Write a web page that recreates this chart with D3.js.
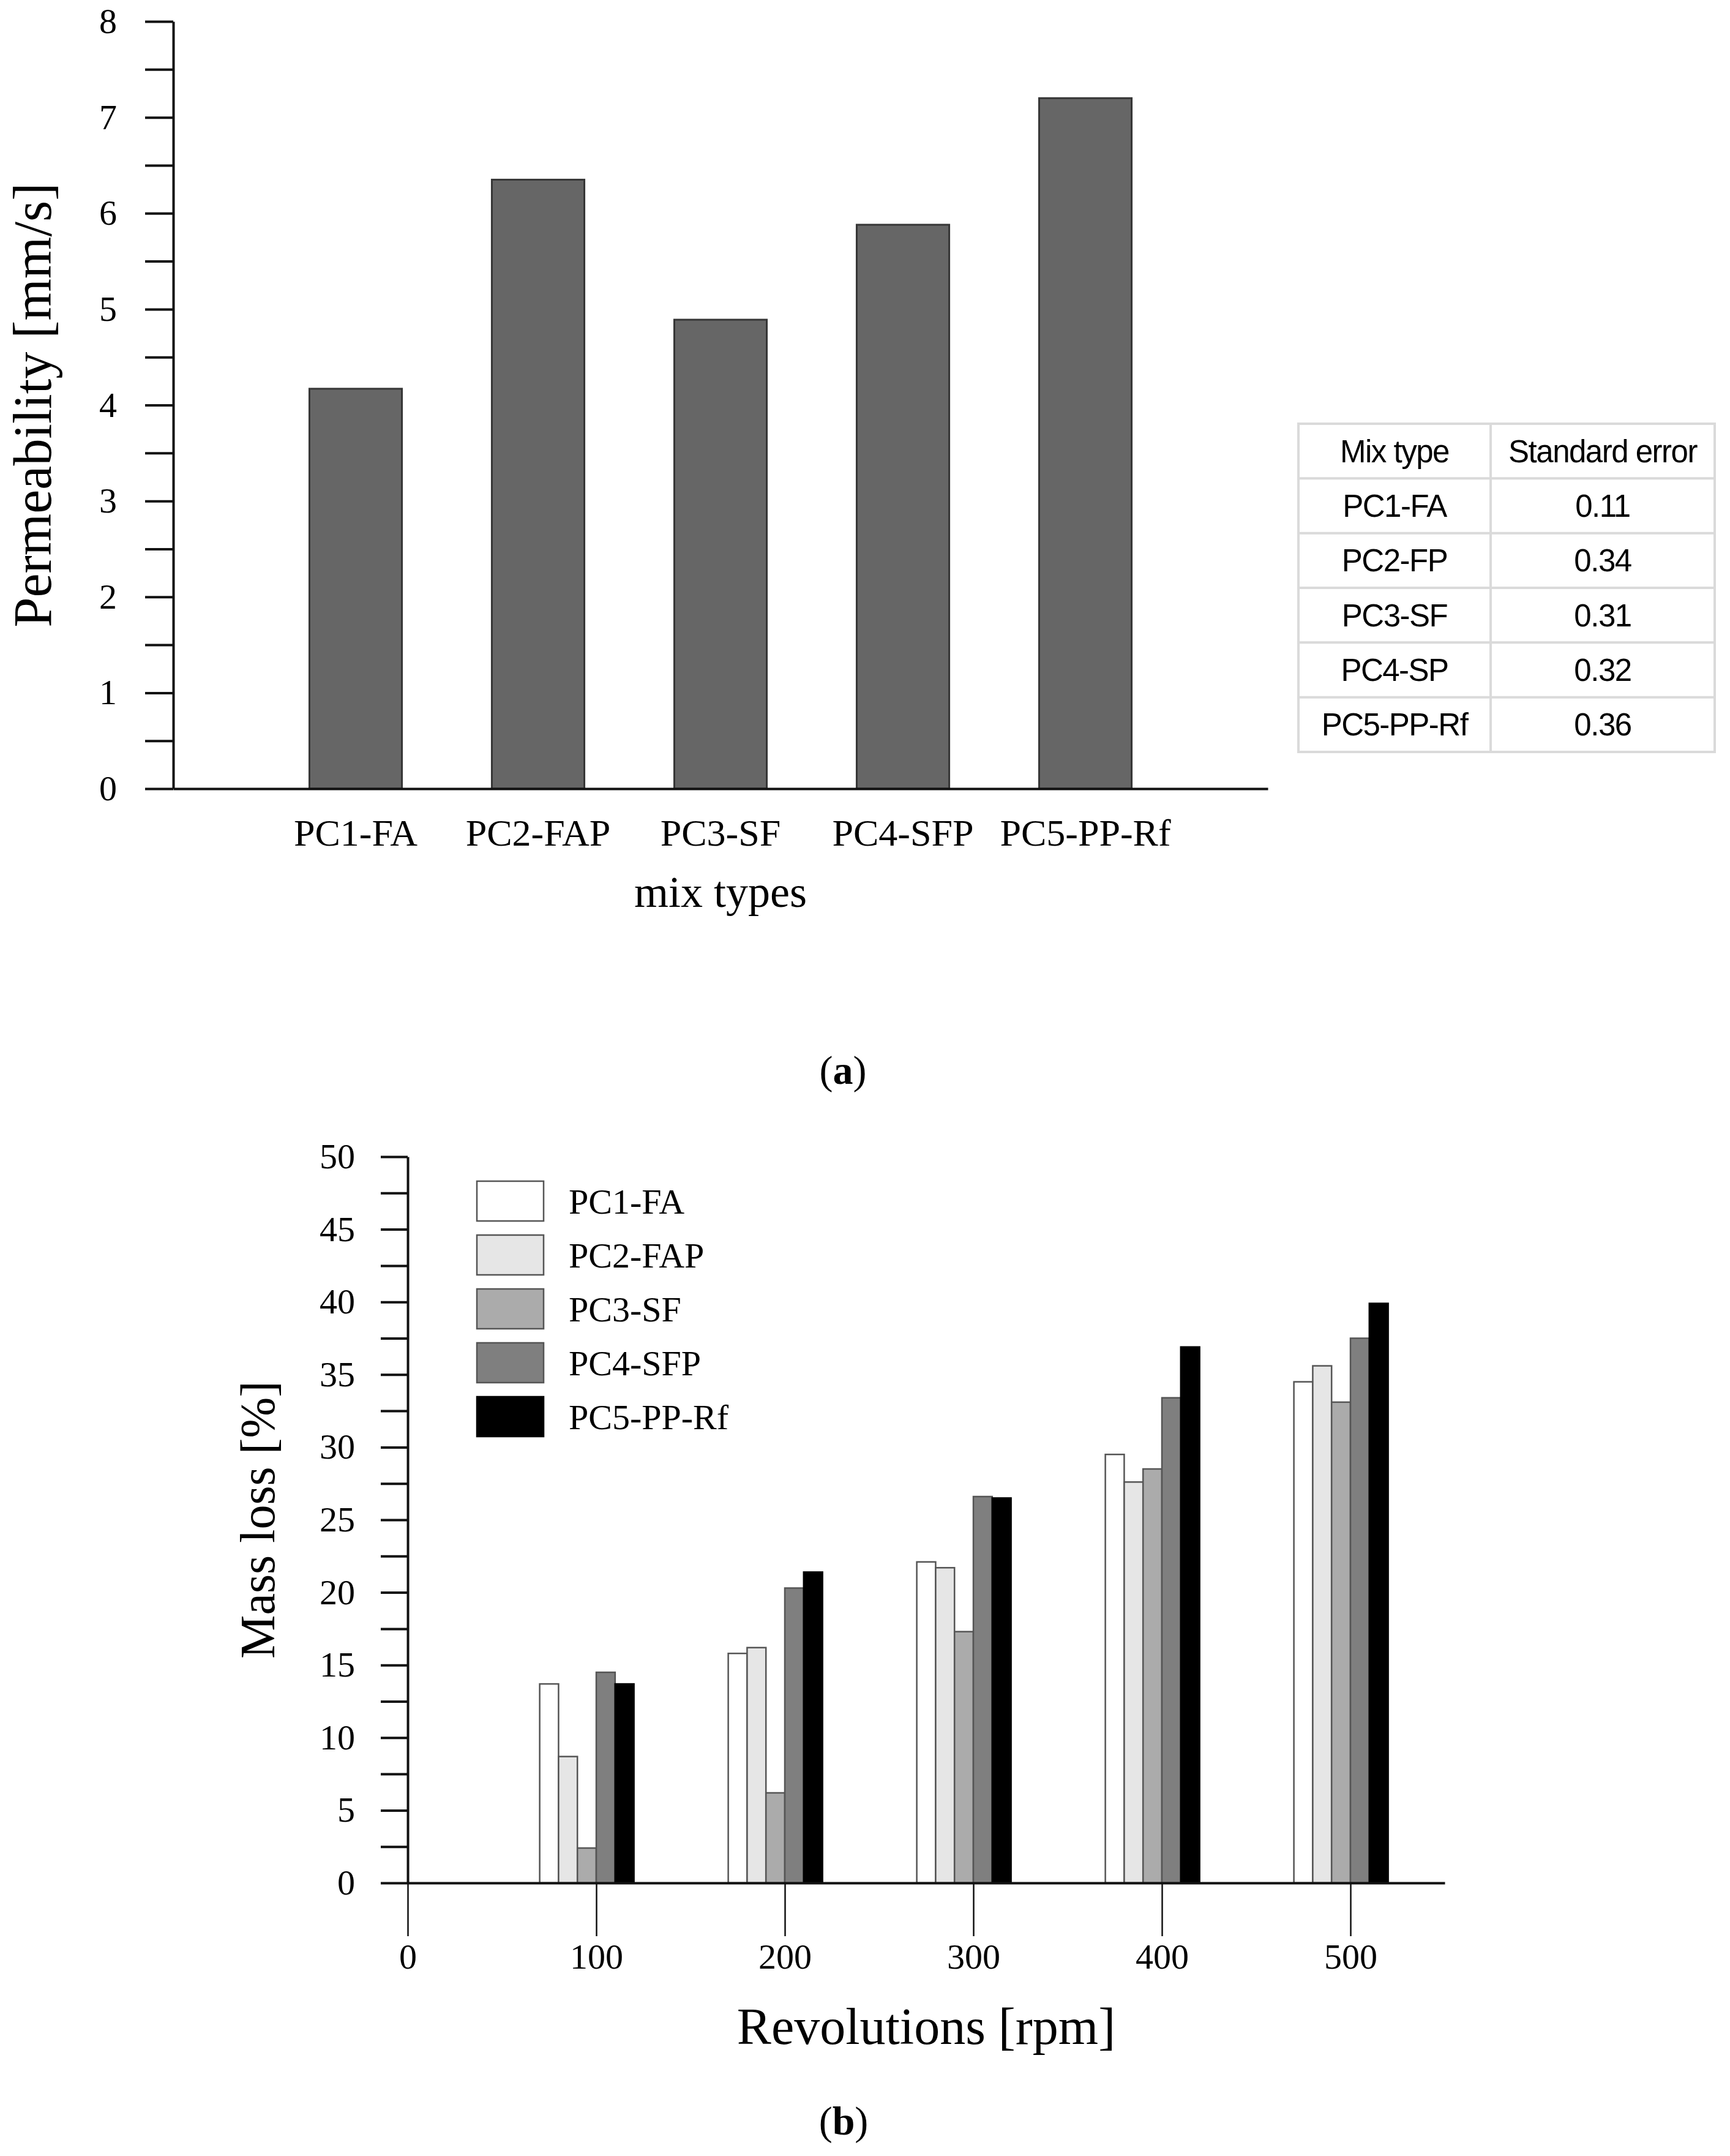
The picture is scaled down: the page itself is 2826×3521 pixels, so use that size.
<!DOCTYPE html>
<html>
<head>
<meta charset="utf-8">
<script src="https://cdn.jsdelivr.net/npm/d3@7"></script>
<style>
  html, body { margin: 0; padding: 0; background: #fff; }
  svg { display: block; }
</style>
</head>
<body>
<svg id="chart" width="2826" height="3521"></svg>
<script>
// ---------- DATA ----------
const mixTypes = ["PC1-FA", "PC2-FAP", "PC3-SF", "PC4-SFP", "PC5-PP-Rf"];
const permeability = [4.17, 6.35, 4.89, 5.88, 7.2];
const permTicks = [0, 1, 2, 3, 4, 5, 6, 7, 8];

const tableHeader = ["Mix type", "Standard error"];
const tableMix = ["PC1-FA", "PC2-FP", "PC3-SF", "PC4-SP", "PC5-PP-Rf"];
const stdError = ["0.11", "0.34", "0.31", "0.32", "0.36"];

const revolutions = [100, 200, 300, 400, 500];
const revTicks = [0, 100, 200, 300, 400, 500];
const massTicks = [0, 5, 10, 15, 20, 25, 30, 35, 40, 45, 50];
const seriesNames = ["PC1-FA", "PC2-FAP", "PC3-SF", "PC4-SFP", "PC5-PP-Rf"];
const massPC1 = [13.7, 15.8, 22.1, 29.5, 34.5];
const massPC2 = [8.7, 16.2, 21.7, 27.6, 35.6];
const massPC3 = [2.4, 6.2, 17.3, 28.5, 33.1];
const massPC4 = [14.5, 20.3, 26.6, 33.4, 37.5];
const massPC5 = [13.7, 21.4, 26.5, 36.9, 39.9];
const seriesColors = ["#ffffff", "#e6e6e6", "#ababab", "#7f7f7f", "#000000"];

// ---------- SETUP ----------
const svg = d3.select("#chart");
svg.append("rect").attr("width", 2826).attr("height", 3521).attr("fill", "#fff");
const serif = "'Liberation Serif', 'Times New Roman', serif";
const sans = "'Liberation Sans', Arial, sans-serif";

function styleAxis(g, strokeW) {
  g.select(".domain").attr("stroke", "#111").attr("stroke-width", 4);
  g.selectAll(".tick line").attr("stroke", "#111").attr("stroke-width", strokeW);
  g.selectAll(".tick text").attr("fill", "#000").attr("font-family", serif);
}

// ---------- CHART (a) ----------
const xA = d3.scaleLinear().domain([0, 6]).range([283, 2071]);
const yA = d3.scaleLinear().domain([0, 8]).range([1288, 35]);
const barFracA = 0.507;
const stepA = xA(1) - xA(0);

const gA = svg.append("g");
gA.selectAll("rect.barA")
  .data(permeability)
  .join("rect")
  .attr("class", "barA")
  .attr("x", (d, i) => xA(i + 1) - stepA * barFracA / 2)
  .attr("width", stepA * barFracA)
  .attr("y", d => yA(d))
  .attr("height", d => yA(0) - yA(d))
  .attr("fill", "#666666")
  .attr("stroke", "#363636")
  .attr("stroke-width", 3);

const yAxisA = gA.append("g")
  .attr("transform", `translate(${xA(0)},0)`)
  .call(d3.axisLeft(yA)
    .tickValues(d3.range(0, 8.01, 0.5))
    .tickFormat(d => permTicks.includes(d) ? d : "")
    .tickSize(46).tickSizeOuter(0).tickPadding(46));
styleAxis(yAxisA, 4);
yAxisA.selectAll(".tick text").attr("font-size", 58);

const xAxisA = gA.append("g")
  .attr("transform", `translate(0,${yA(0)})`)
  .call(d3.axisBottom(xA).tickValues([]).tickSizeOuter(0));
styleAxis(xAxisA, 4);

gA.selectAll("text.catA")
  .data(mixTypes)
  .join("text")
  .attr("class", "catA")
  .attr("x", (d, i) => xA(i + 1))
  .attr("y", 1381)
  .attr("text-anchor", "middle")
  .attr("font-family", serif)
  .attr("font-size", 62)
  .text(d => d);

gA.append("text")
  .attr("x", 1177).attr("y", 1481)
  .attr("text-anchor", "middle")
  .attr("font-family", serif).attr("font-size", 72)
  .text("mix types");

gA.append("text")
  .attr("transform", `translate(83,${(yA(0) + yA(8)) / 2}) rotate(-90)`)
  .attr("text-anchor", "middle")
  .attr("font-family", serif).attr("font-size", 88)
  .text("Permeability [mm/s]");

// caption (a)
const capA = svg.append("text")
  .attr("x", 1377).attr("y", 1770)
  .attr("text-anchor", "middle")
  .attr("font-family", serif).attr("font-size", 66);
capA.append("tspan").text("(");
capA.append("tspan").attr("font-weight", "bold").text("a");
capA.append("tspan").text(")");

// ---------- TABLE ----------
const tbl = { left: 2121, right: 2801, top: 692, bottom: 1228, mid: 2435 };
const rowsT = [tableHeader].concat(tableMix.map((m, i) => [m, stdError[i]]));
const rowScale = d3.scaleBand().domain(d3.range(rowsT.length)).range([tbl.top, tbl.bottom]);
const colCenters = [(tbl.left + tbl.mid) / 2, (tbl.mid + tbl.right) / 2];
const gT = svg.append("g");
gT.append("rect")
  .attr("x", tbl.left).attr("y", tbl.top)
  .attr("width", tbl.right - tbl.left).attr("height", tbl.bottom - tbl.top)
  .attr("fill", "none").attr("stroke", "#dadada").attr("stroke-width", 4);
gT.append("line")
  .attr("x1", tbl.mid).attr("x2", tbl.mid)
  .attr("y1", tbl.top).attr("y2", tbl.bottom)
  .attr("stroke", "#dadada").attr("stroke-width", 4);
gT.selectAll("line.rowline")
  .data(d3.range(1, rowsT.length))
  .join("line")
  .attr("class", "rowline")
  .attr("x1", tbl.left).attr("x2", tbl.right)
  .attr("y1", d => rowScale(d)).attr("y2", d => rowScale(d))
  .attr("stroke", "#dadada").attr("stroke-width", 4);
rowsT.forEach((row, r) => {
  row.forEach((cell, c) => {
    gT.append("text")
      .attr("x", colCenters[c])
      .attr("y", rowScale(r) + rowScale.bandwidth() / 2 + 18)
      .attr("text-anchor", "middle")
      .attr("font-family", sans)
      .attr("font-size", 51)
      .attr("letter-spacing", -1.5)
      .attr("fill", "#000")
      .text(cell);
  });
});

// ---------- CHART (b) ----------
const xB = d3.scaleLinear().domain([0, 550]).range([666, 2360]);
const yB = d3.scaleLinear().domain([0, 50]).range([3075, 1889]);
const barWidthRpm = 10;
const massSeries = [massPC1, massPC2, massPC3, massPC4, massPC5];

const gB = svg.append("g");
massSeries.forEach((vals, si) => {
  gB.selectAll(`rect.s${si}`)
    .data(vals)
    .join("rect")
    .attr("class", `s${si}`)
    .attr("x", (d, i) => xB(revolutions[i] + (si - 3) * barWidthRpm))
    .attr("width", xB(barWidthRpm) - xB(0))
    .attr("y", d => yB(d))
    .attr("height", d => yB(0) - yB(d))
    .attr("fill", seriesColors[si])
    .attr("stroke", si === 4 ? "#000" : "#555")
    .attr("stroke-width", 2.5);
});

const yAxisB = gB.append("g")
  .attr("transform", `translate(${xB(0)},0)`)
  .call(d3.axisLeft(yB)
    .tickValues(d3.range(0, 50.01, 2.5))
    .tickFormat(d => massTicks.includes(d) ? d : "")
    .tickSize(44).tickSizeOuter(0).tickPadding(42));
styleAxis(yAxisB, 4);
yAxisB.selectAll(".tick text").attr("font-size", 58);

const xAxisB = gB.append("g")
  .attr("transform", `translate(0,${yB(0)})`)
  .call(d3.axisBottom(xB)
    .tickValues(revTicks)
    .tickSize(87).tickSizeOuter(0).tickPadding(12));
styleAxis(xAxisB, 2.5);
xAxisB.selectAll(".tick text").attr("font-size", 58);

gB.append("text")
  .attr("x", (xB(0) + xB(550)) / 2).attr("y", 3338)
  .attr("text-anchor", "middle")
  .attr("font-family", serif).attr("font-size", 84)
  .text("Revolutions [rpm]");

gB.append("text")
  .attr("transform", `translate(448,${(yB(0) + yB(50)) / 2}) rotate(-90)`)
  .attr("text-anchor", "middle")
  .attr("font-family", serif).attr("font-size", 80)
  .text("Mass loss [%]");

// legend
const legY = d3.scaleLinear().domain([0, 1]).range([1929, 2017]);
const legG = gB.append("g");
legG.selectAll("rect.leg")
  .data(seriesNames)
  .join("rect")
  .attr("class", "leg")
  .attr("x", 779).attr("y", (d, i) => legY(i))
  .attr("width", 109).attr("height", 65)
  .attr("fill", (d, i) => seriesColors[i])
  .attr("stroke", (d, i) => i === 4 ? "#000" : "#555")
  .attr("stroke-width", 2.5);
legG.selectAll("text.leg")
  .data(seriesNames)
  .join("text")
  .attr("class", "leg")
  .attr("x", 929).attr("y", (d, i) => legY(i) + 53)
  .attr("font-family", serif).attr("font-size", 58)
  .text(d => d);

// caption (b)
const capB = svg.append("text")
  .attr("x", 1378).attr("y", 3486)
  .attr("text-anchor", "middle")
  .attr("font-family", serif).attr("font-size", 66);
capB.append("tspan").text("(");
capB.append("tspan").attr("font-weight", "bold").text("b");
capB.append("tspan").text(")");
</script>
</body>
</html>
